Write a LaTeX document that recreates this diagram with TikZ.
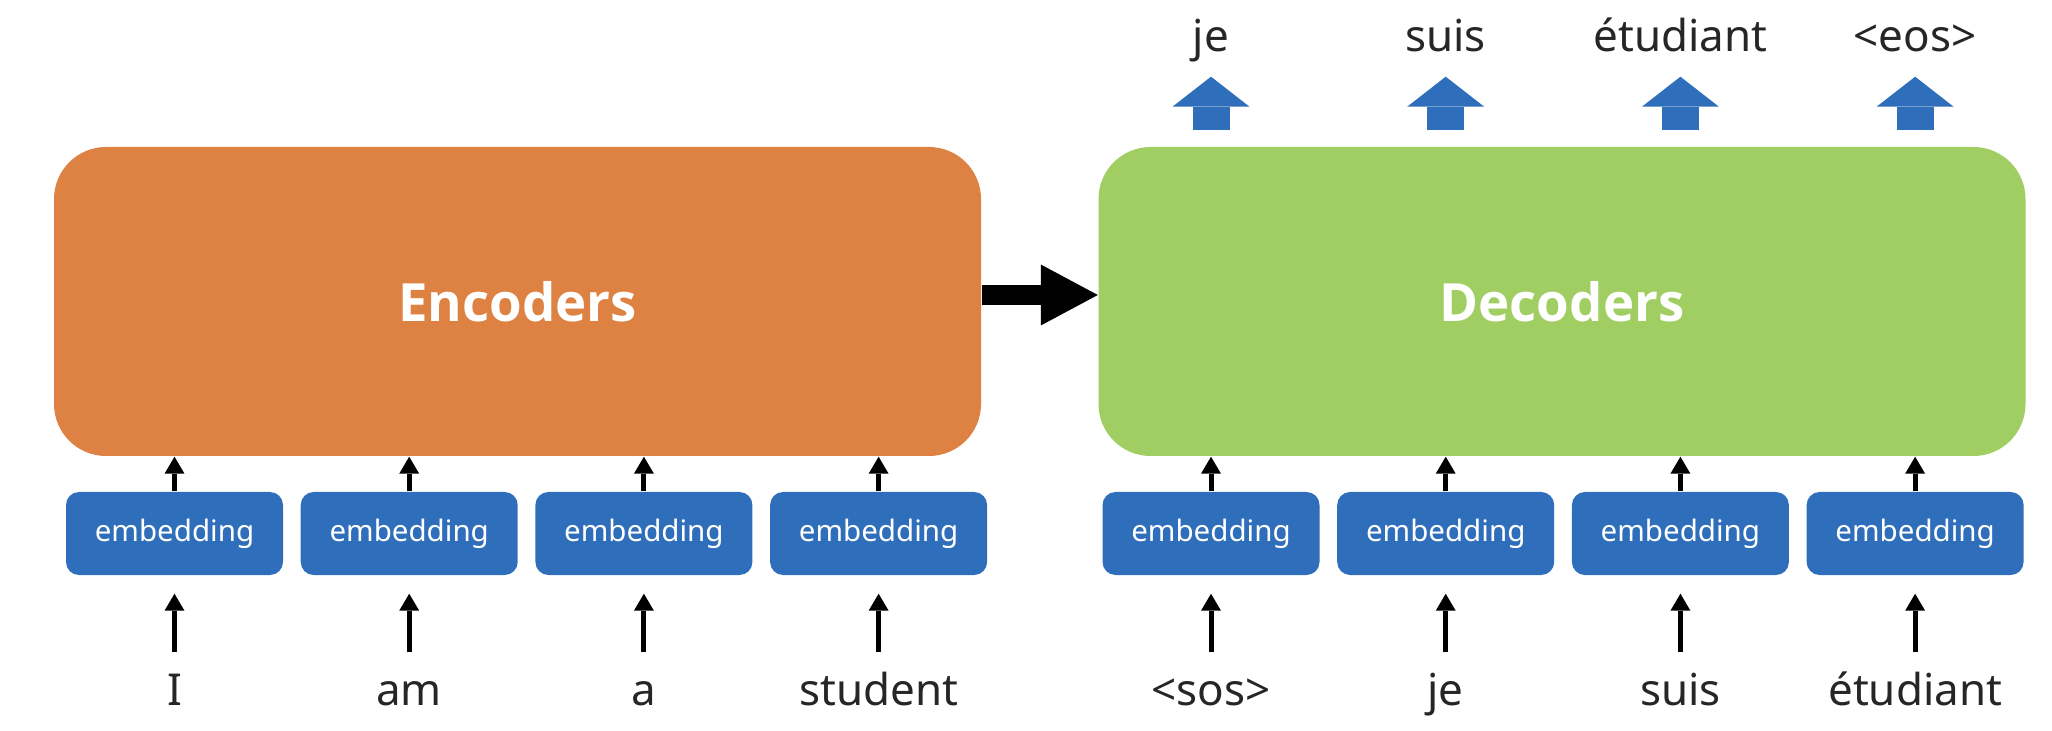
\documentclass[tikz,border=0pt]{standalone}
\usepackage{fontspec}
\setmainfont{Noto Sans}
\newfontfamily\titlefont{Open Sans}
\usetikzlibrary{arrows.meta,positioning}
\definecolor{encorange}{RGB}{222,130,67}
\definecolor{decgreen}{RGB}{160,206,98}
\definecolor{embblue}{RGB}{47,110,186}

\begin{document}
\begin{tikzpicture}[
        block/.style={rounded corners=0.52cm, minimum width=9.27cm, minimum height=3.09cm,
                      text=white, font=\titlefont\fontsize{15}{18}\selectfont\bfseries},
        embed/.style={fill=embblue, rounded corners=0.13cm, minimum width=2.17cm, minimum height=0.83cm,
                      inner sep=0pt, text=white, font=\fontsize{8.4}{10}\selectfont},
        word/.style={anchor=base, inner sep=0pt, text height=0.52cm, text depth=0.1cm,
                     text=black!85, font=\fontsize{12.5}{15}\selectfont},
        inarrow/.style={line width=0.05cm, -{Triangle[length=0.17cm,width=0.2cm,line width=0pt]}},
        outarrow/.style={embblue, line width=0.37cm, -{Triangle[length=0.30cm,width=0.77cm,line width=0pt]}}
      ]
        \useasboundingbox (0,0) rectangle (20.52,7.30);

        \node[block, fill=encorange] (enc) at (5.175,4.285) {Encoders};   %encoder stack
        \node[block, fill=decgreen]  (dec) at (15.62,4.285) {Decoders};   %decoder stack
        \draw [line width=0.2cm, -{Triangle[length=0.57cm,width=0.61cm,line width=0pt]}]
              ([yshift=0.065cm]enc.east) -- ([yshift=0.065cm]dec.west);   %enc -> dec

        \node[embed] (e1) at (1.745,1.965)  {embedding};                  %encoder side
        \node[embed, right=0.163cm of e1] (e2) {embedding};              %
        \node[embed, right=0.163cm of e2] (e3) {embedding};              %
        \node[embed, right=0.163cm of e3] (e4) {embedding};              %

        \node[embed] (d1) at (12.11,1.965)  {embedding};                  %decoder side
        \node[embed, right=0.163cm of d1] (d2) {embedding};              %
        \node[embed, right=0.163cm of d2] (d3) {embedding};              %
        \node[embed, right=0.163cm of d3] (d4) {embedding};              %

        \node[word] (w1) at (e1 |- 0,0.25) {I};                           %source words
        \node[word] (w2) at (e2 |- 0,0.25) {am};                          %
        \node[word] (w3) at (e3 |- 0,0.25) {a};                           %
        \node[word] (w4) at (e4 |- 0,0.25) {student};                     %

        \node[word] (v1) at (d1 |- 0,0.25) {<sos>};                       %shifted target words
        \node[word] (v2) at (d2 |- 0,0.25) {je};                          %
        \node[word] (v3) at (d3 |- 0,0.25) {suis};                        %
        \node[word] (v4) at (d4 |- 0,0.25) {étudiant};                    %

        \node[word] (o1) at (d1 |- 0,6.78) {je};                          %outputs
        \node[word] (o2) at (d2 |- 0,6.78) {suis};                        %
        \node[word] (o3) at (d3 |- 0,6.78) {étudiant};                    %
        \node[word] (o4) at (d4 |- 0,6.78) {<eos>};                       %
        \coordinate (b1) at (d1 |- 0,6.00);
        \coordinate (b2) at (d2 |- 0,6.00);
        \coordinate (b3) at (d3 |- 0,6.00);
        \coordinate (b4) at (d4 |- 0,6.00);

        \draw [inarrow] (e1.north) -- (e1.north |- enc.south);           %embedding -> encoder
        \draw [inarrow] (e2.north) -- (e2.north |- enc.south);           %
        \draw [inarrow] (e3.north) -- (e3.north |- enc.south);           %
        \draw [inarrow] (e4.north) -- (e4.north |- enc.south);           %
        \draw [inarrow] (d1.north) -- (d1.north |- dec.south);           %embedding -> decoder
        \draw [inarrow] (d2.north) -- (d2.north |- dec.south);           %
        \draw [inarrow] (d3.north) -- (d3.north |- dec.south);           %
        \draw [inarrow] (d4.north) -- (d4.north |- dec.south);           %

        \draw [inarrow, shorten >=0.18cm] (w1.north) -- (e1.south);      %word -> embedding
        \draw [inarrow, shorten >=0.18cm] (w2.north) -- (e2.south);      %
        \draw [inarrow, shorten >=0.18cm] (w3.north) -- (e3.south);      %
        \draw [inarrow, shorten >=0.18cm] (w4.north) -- (e4.south);      %
        \draw [inarrow, shorten >=0.18cm] (v1.north) -- (d1.south);      %
        \draw [inarrow, shorten >=0.18cm] (v2.north) -- (d2.south);      %
        \draw [inarrow, shorten >=0.18cm] (v3.north) -- (d3.south);      %
        \draw [inarrow, shorten >=0.18cm] (v4.north) -- (d4.south);      %

        \draw [outarrow, shorten >=0.14cm] (b1) -- (o1.south);           %decoder -> output
        \draw [outarrow, shorten >=0.14cm] (b2) -- (o2.south);           %
        \draw [outarrow, shorten >=0.14cm] (b3) -- (o3.south);           %
        \draw [outarrow, shorten >=0.14cm] (b4) -- (o4.south);           %
      \end{tikzpicture}
\end{document}
